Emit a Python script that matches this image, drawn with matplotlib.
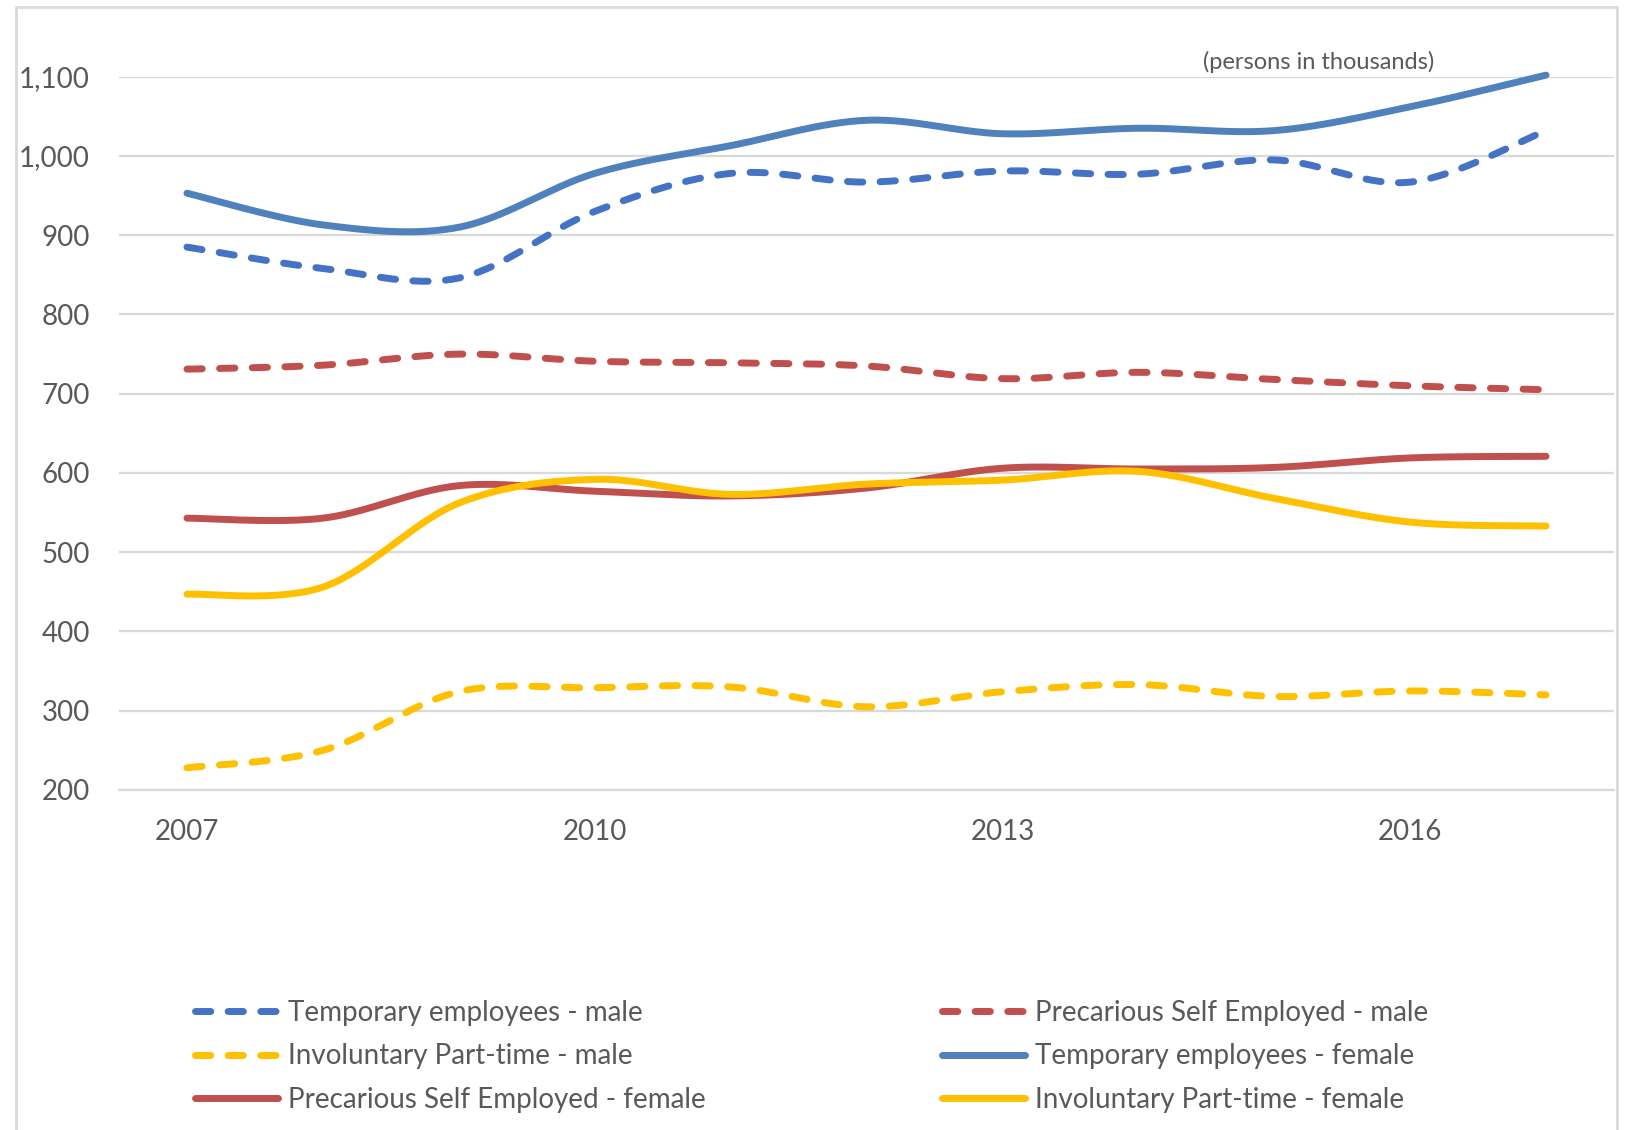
import numpy as np
import matplotlib
matplotlib.use("Agg")
import matplotlib.pyplot as plt
from matplotlib.lines import Line2D

# ---- data (persons in thousands) ----
years = [2007, 2008, 2009, 2010, 2011, 2012, 2013, 2014, 2015, 2016, 2017]
xtick_labels = ["2007", "2010", "2013", "2016"]
yticks = [200, 300, 400, 500, 600, 700, 800, 900, 1000, 1100]

temp_male = [885, 858, 846, 930, 978, 967, 981, 977, 995, 967, 1032]
prec_male = [731, 736, 750, 741, 739, 735, 719, 727, 718, 710, 705]
invol_male = [228, 250, 324, 329, 330, 305, 324, 333, 318, 325, 320]
temp_female = [953, 913, 910, 978, 1013, 1045, 1028, 1035, 1032, 1062, 1102]
prec_female = [543, 543, 584, 577, 571, 581, 606, 605, 607, 619, 621]
invol_female = [447, 456, 562, 592, 573, 586, 591, 602, 568, 538, 533]

series_names = ["Temporary employees - male", "Precarious Self Employed - male",
                "Involuntary Part-time - male", "Temporary employees - female",
                "Precarious Self Employed - female", "Involuntary Part-time - female"]
series_values = [temp_male, prec_male, invol_male, temp_female, prec_female, invol_female]
series_colors = ["#4472C4", "#C0504D", "#FFC000", "#4F81BD", "#C0504D", "#FFC000"]
series_dashed = [True, True, True, False, False, False]


def smooth(xs, ys, n=40):
    """Excel-like smoothed line (Catmull-Rom Bezier)."""
    xs = np.asarray(xs, float); ys = np.asarray(ys, float)
    P = np.column_stack([xs, ys])
    Pp = np.vstack([P[0], P, P[-1]])
    out = []
    t = np.linspace(0, 1, n)[:, None]
    for i in range(len(P) - 1):
        p0, p1, p2, p3 = Pp[i], Pp[i + 1], Pp[i + 2], Pp[i + 3]
        c1 = p1 + (p2 - p0) / 6.0
        c2 = p2 - (p3 - p1) / 6.0
        seg = ((1 - t) ** 3) * p1 + 3 * ((1 - t) ** 2) * t * c1 + 3 * (1 - t) * t ** 2 * c2 + t ** 3 * p2
        out.append(seg if i == 0 else seg[1:])
    out = np.vstack(out)
    return out[:, 0], out[:, 1]


plt.rcParams['font.family'] = ['Lato', 'DejaVu Sans']
W, H = 1626, 1130
fig = plt.figure(figsize=(W / 100, H / 100), dpi=100)

left, right, bottom, top = 119, 1614, 790, 76.7
ax = fig.add_axes([left / W, 1 - bottom / H, (right - left) / W, (bottom - top) / H])

grey = "#595959"
grid = "#D9D9D9"
lw = 5
idx = np.arange(len(years))
handles = []
for name, vals, col, dashed in zip(series_names, series_values, series_colors, series_dashed):
    sx, sy = smooth(idx, vals)
    ls = (0, (2.2, 2.5)) if dashed else "-"
    ln, = ax.plot(sx, sy, color=col, lw=lw, linestyle=ls, solid_capstyle="round",
                  dash_capstyle="round", clip_on=False, label=name, zorder=3)
    handles.append(ln)

ax.set_xlim(-0.5, len(years) - 0.5)
ax.set_ylim(200, 1100)
ax.set_yticks(yticks)
ax.set_yticklabels([f"{v:,}" for v in yticks])
ax.set_xticks([years.index(int(s)) for s in xtick_labels])
ax.set_xticklabels(xtick_labels)
ax.tick_params(axis="both", length=0, labelsize=20, colors=grey)
ax.tick_params(axis="y", pad=21)
ax.tick_params(axis="x", pad=21)
ax.yaxis.grid(True, color=grid, lw=1.6, zorder=0)
ax.set_axisbelow(True)
for s in ["top", "right", "left"]:
    ax.spines[s].set_visible(False)
ax.spines["bottom"].set_color(grid)
ax.spines["bottom"].set_linewidth(1.6)

fig.text(1319 / W, 1 - 62 / H, "(persons in thousands)", ha="center", va="center",
         fontsize=17, color=grey)

# outer chart border
bx0, bx1, by0 = 16 / W, 1617 / W, 1 - 7 / H
fig.add_artist(Line2D([bx0, bx0, bx1, bx1], [0, by0, by0, 0], color="#D9D9D9", lw=2,
                      transform=fig.transFigure))

order = [0, 2, 4, 1, 3, 5]
leg = fig.legend([handles[i] for i in order], [series_names[i] for i in order], ncol=2,
                 loc="upper left", bbox_to_anchor=(184 / W, 1 - 989 / H), frameon=False,
                 fontsize=20, handlelength=3.0, handletextpad=0.35, labelspacing=0.62,
                 columnspacing=8.5, borderaxespad=0)
for t in leg.get_texts():
    t.set_color(grey)

fig.savefig("out.png", dpi=100, facecolor="white")
